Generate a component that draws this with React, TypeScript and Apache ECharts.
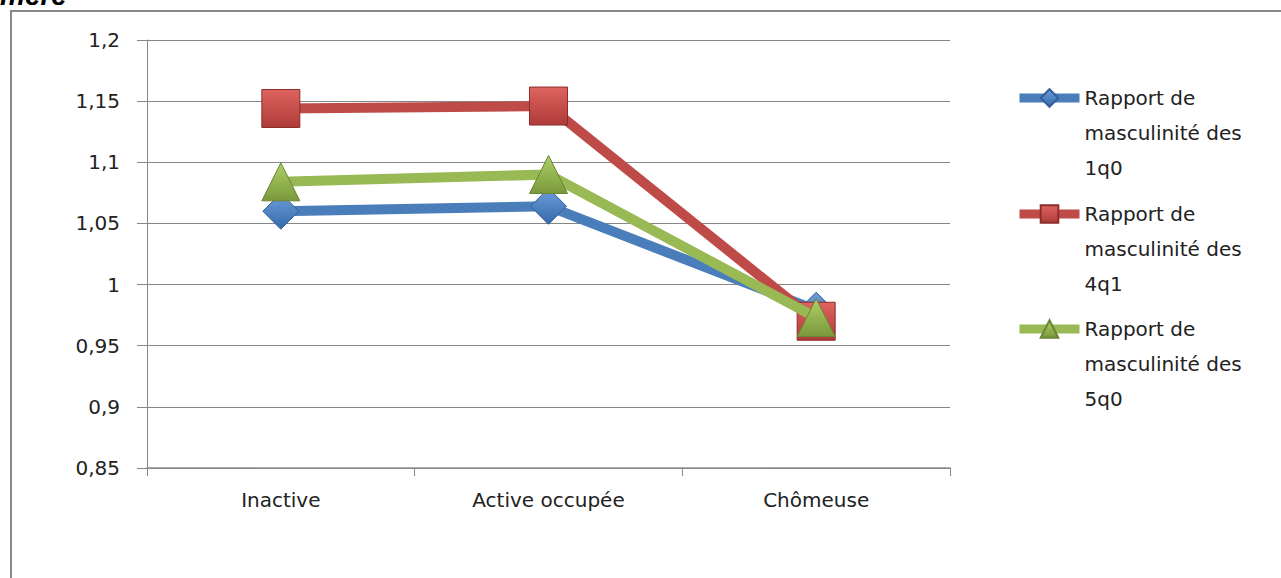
import { useEffect, useRef } from "react";
import * as echarts from "echarts";

const categories = ["Inactive", "Active occupée", "Chômeuse"];
const seriesNames = [
  "Rapport de masculinité des 1q0",
  "Rapport de masculinité des 4q1",
  "Rapport de masculinité des 5q0",
];
const legendLabels = [
  "Rapport de\nmasculinité des\n1q0",
  "Rapport de\nmasculinité des\n4q1",
  "Rapport de\nmasculinité des\n5q0",
];
const values1q0 = [1.06, 1.064, 0.979];
const values4q1 = [1.144, 1.146, 0.97];
const values5q0 = [1.084, 1.09, 0.973];
const yMin = 0.85;
const yMax = 1.2;
const yStep = 0.05;

const FONT = "DejaVu Sans";
const TXT = "#222222";
const GRAY = "#868686";

export default function App() {
  const ref = useRef<HTMLDivElement>(null);
  useEffect(() => {
    document.body.style.margin = "0";
    const chart = echarts.init(ref.current!, undefined, { renderer: "svg" });
    const grad = (a: string, b: string) =>
      new echarts.graphic.LinearGradient(0, 0, 0, 1, [
        { offset: 0, color: a },
        { offset: 1, color: b },
      ]);
    const lineColors = ["#4A7EBB", "#BE4B48", "#98B954"];
    const markerFills = [
      grad("#6E9FDC", "#3569AA"),
      grad("#DE645F", "#AE3B38"),
      grad("#AED068", "#7A983A"),
    ];
    const markerBorders = ["#345F95", "#8C2D2B", "#6A8534"];
    const symbols = ["diamond", "rect", "triangle"];
    const sizes = [36, 38, 38];
    const dataSets = [values1q0, values4q1, values5q0];
    const legendTops = [10.5, 126.5, 241.5];

    chart.setOption({
      animation: false,
      grid: { left: 147, right: 331, top: 40, bottom: 110 },
      xAxis: {
        type: "category",
        data: categories,
        boundaryGap: true,
        axisLine: { show: true, lineStyle: { color: "#8c8c8c", width: 1.5 } },
        axisTick: { show: true, length: 8, lineStyle: { color: GRAY } },
        axisLabel: { color: TXT, fontFamily: FONT, fontSize: 20, margin: 22 },
      },
      yAxis: {
        type: "value",
        min: yMin,
        max: yMax,
        interval: yStep,
        axisLine: { show: true, lineStyle: { color: GRAY, width: 1 } },
        axisTick: { show: true, length: 10, lineStyle: { color: GRAY } },
        axisLabel: {
          color: TXT,
          fontFamily: FONT,
          fontSize: 20,
          margin: 27,
          formatter: (v: number) => String(+v.toFixed(2)).replace(".", ","),
        },
        splitLine: { show: true, lineStyle: { color: GRAY, width: 1 } },
      },
      legend: seriesNames.map((name, i) => ({
        data: [name],
        orient: "vertical",
        left: 1015,
        top: legendTops[i],
        padding: 0,
        itemWidth: 60,
        itemHeight: 22,
        itemGap: 0,
        selectedMode: false,
        formatter: () => "\n\n" + legendLabels[i],
        lineStyle: { width: 9 },
        textStyle: {
          color: TXT,
          fontFamily: FONT,
          fontSize: 20,
          lineHeight: 35,
        },
      })),
      series: seriesNames.map((name, i) => ({
        name,
        type: "line",
        data: dataSets[i],
        symbol: symbols[i],
        symbolSize: sizes[i],
        z: 2 + i,
        lineStyle: { color: lineColors[i], width: 10 },
        itemStyle: {
          color: markerFills[i],
          borderColor: markerBorders[i],
          borderWidth: 1,
        },
        emphasis: { disabled: true },
      })),
      graphic: [
        {
          type: "rect",
          silent: true,
          shape: { x: 11, y: 11, width: 1300, height: 620 },
          style: { fill: "none", stroke: "#888888", lineWidth: 2 },
        },
        {
          type: "text",
          silent: true,
          x: 0,
          y: -5,
          style: {
            text: "mère",
            font: "italic bold 28px 'Liberation Sans'",
            fill: "#000",
            verticalAlign: "middle",
          },
        },
      ],
    });
    return () => chart.dispose();
  }, []);
  return <div ref={ref} style={{ width: 1281, height: 578 }} />;
}
